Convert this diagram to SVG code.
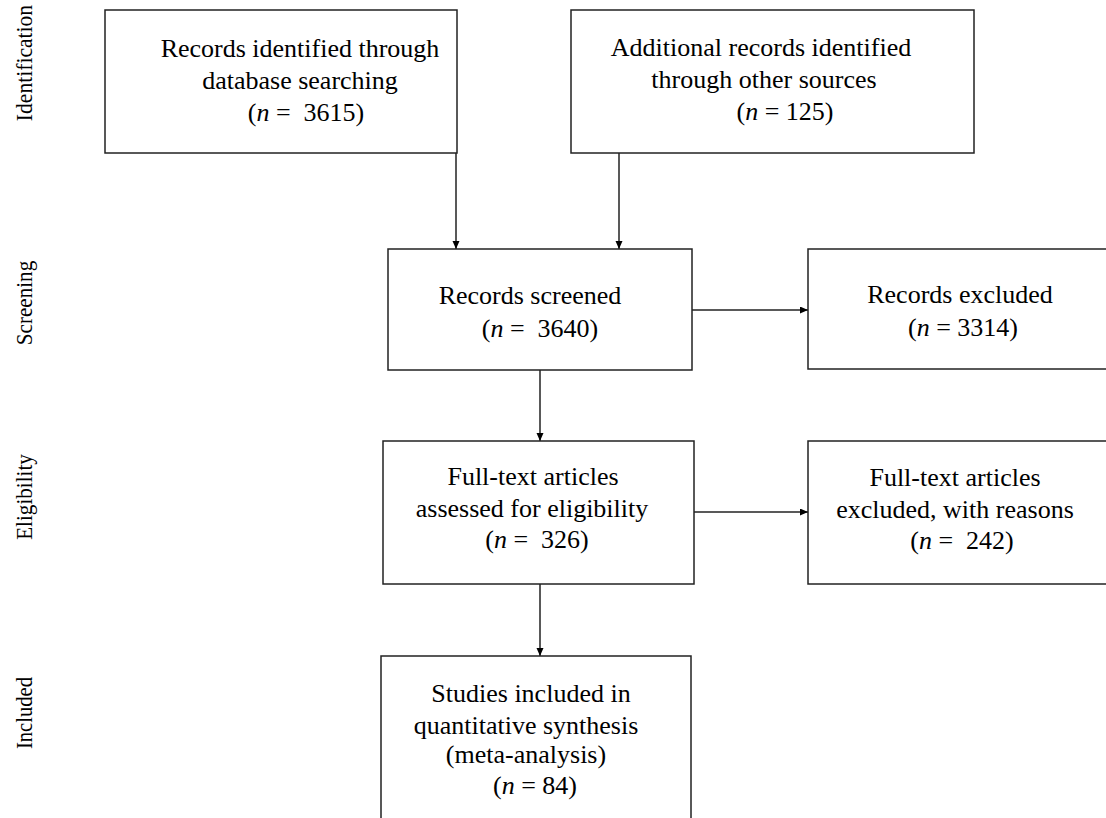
<svg xmlns="http://www.w3.org/2000/svg" width="1106" height="818" viewBox="0 0 1106 818">
<style>
.box{fill:#fff;stroke:#222;stroke-width:1.5}
.t{font-family:"Liberation Serif","Times New Roman",serif;font-size:26px;fill:#000;text-anchor:middle;white-space:pre}
.side{font-family:"Liberation Serif","Times New Roman",serif;font-size:24px;fill:#000;text-anchor:middle}
.c{stroke:#222;stroke-width:1.5;fill:none;marker-end:url(#ah)}
</style>
<defs>
<marker id="ah" markerWidth="8" markerHeight="8" refX="8" refY="3.5" orient="auto" markerUnits="userSpaceOnUse">
<path d="M0,0 L8,3.5 L0,7 Z" fill="#000"/>
</marker>
</defs>
<rect width="1106" height="818" fill="#fff"/>
<g id="phases">
<text class="side" transform="translate(32,63) rotate(-90) scale(0.9,1)">Identification</text>
<text class="side" transform="translate(32,303) rotate(-90) scale(0.88,1)">Screening</text>
<text class="side" transform="translate(32,497) rotate(-90) scale(0.88,1)">Eligibility</text>
<text class="side" transform="translate(32,713) rotate(-90) scale(0.86,1)">Included</text>
</g>
<g id="connectors">
<line class="c" x1="456" y1="153" x2="456" y2="249"/>
<line class="c" x1="619" y1="153" x2="619" y2="249"/>
<line class="c" x1="692" y1="310" x2="808" y2="310"/>
<line class="c" x1="540" y1="370" x2="540" y2="441"/>
<line class="c" x1="694" y1="512" x2="808" y2="512"/>
<line class="c" x1="540" y1="584" x2="540" y2="656"/>
</g>
<g id="db">
<rect class="box" x="105" y="10" width="352" height="143"/>
<text class="t" x="300" y="57">Records identified through</text>
<text class="t" x="300" y="89">database searching</text>
<text class="t" x="306" y="121">(<tspan font-style="italic">n</tspan> =  3615)</text>
</g>
<g id="other">
<rect class="box" x="571" y="10" width="403" height="143"/>
<text class="t" x="761" y="56">Additional records identified</text>
<text class="t" x="764" y="88">through other sources</text>
<text class="t" x="785" y="120">(<tspan font-style="italic">n</tspan> = 125)</text>
</g>
<g id="screened">
<rect class="box" x="388" y="249" width="304" height="121"/>
<text class="t" x="530" y="304">Records screened</text>
<text class="t" x="540" y="337">(<tspan font-style="italic">n</tspan> =  3640)</text>
</g>
<g id="excluded">
<rect class="box" x="808" y="249" width="310" height="120"/>
<text class="t" x="960" y="303">Records excluded</text>
<text class="t" x="963" y="336">(<tspan font-style="italic">n</tspan> = 3314)</text>
</g>
<g id="fulltext">
<rect class="box" x="383" y="441" width="311" height="143"/>
<text class="t" x="533" y="485">Full-text articles</text>
<text class="t" x="532" y="517">assessed for eligibility</text>
<text class="t" x="537" y="548">(<tspan font-style="italic">n</tspan> =  326)</text>
</g>
<g id="ftexcluded">
<rect class="box" x="808" y="441" width="310" height="143"/>
<text class="t" x="955" y="486">Full-text articles</text>
<text class="t" x="955" y="518">excluded, with reasons</text>
<text class="t" x="962" y="549">(<tspan font-style="italic">n</tspan> =  242)</text>
</g>
<g id="included">
<rect class="box" x="381" y="656" width="310" height="180"/>
<text class="t" x="531" y="702">Studies included in</text>
<text class="t" x="526" y="734">quantitative synthesis</text>
<text class="t" x="526" y="763">(meta-analysis)</text>
<text class="t" x="535" y="794">(<tspan font-style="italic">n</tspan> = 84)</text>
</g>
</svg>
